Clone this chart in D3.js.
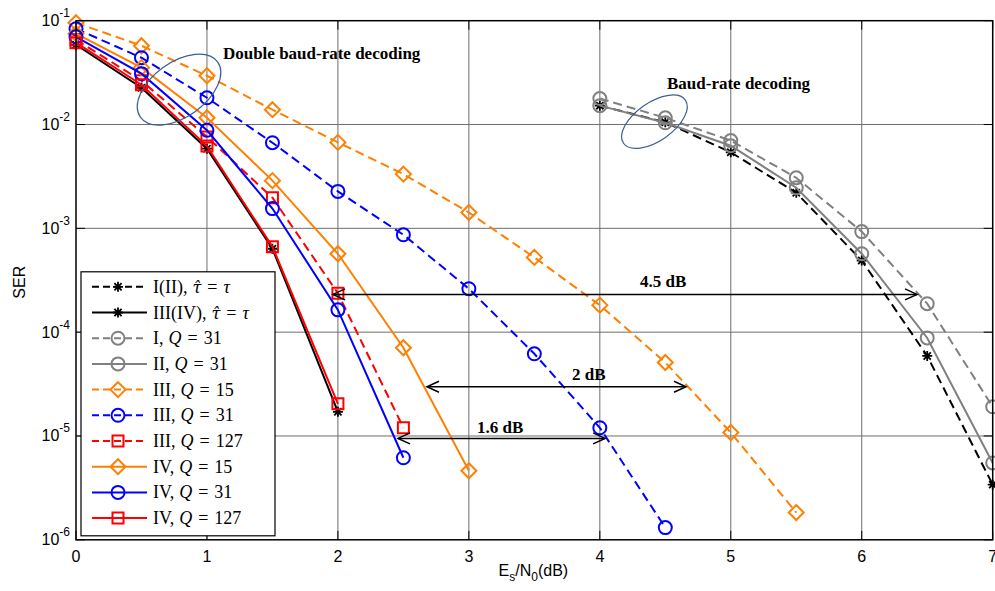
<!DOCTYPE html>
<html><head><meta charset="utf-8">
<script src="https://cdn.jsdelivr.net/npm/d3@7"></script>
<style>
html,body{margin:0;padding:0;background:#fff;}
svg{display:block;}
</style></head>
<body>
<svg id="chart" width="995" height="591"></svg>
<script>
// ---------- data ----------
const xDouble = [0, 0.5, 1, 1.5, 2, 2.5, 3, 3.5, 4, 4.5, 5, 5.5];
const xBaud = [4, 4.5, 5, 5.5, 6, 6.5, 7];

const serI_II_ideal   = [0.0152, 0.0105, 0.0054, 0.0022, 4.9e-4, 5.9e-5, 3.4e-6];
const serIII_IV_ideal = [0.0587, 0.0226, 0.00585, 6.36e-4, 1.71e-5];
const serI_Q31        = [0.0178, 0.0116, 0.0070, 0.00307, 9.3e-4, 1.88e-4, 1.91e-5];
const serII_Q31       = [0.0152, 0.0104, 0.00625, 0.00246, 5.7e-4, 8.8e-5, 5.5e-6];
const serIII_Q15      = [0.0955, 0.0574, 0.0295, 0.0139, 0.00673, 0.00333, 0.00142, 5.25e-4, 1.82e-4, 5.1e-5, 1.08e-5, 1.83e-6];
const serIII_Q31      = [0.0837, 0.044, 0.0181, 0.00668, 0.00227, 8.67e-4, 2.62e-4, 6.19e-5, 1.2e-5, 1.31e-6];
const serIII_Q127     = [0.0656, 0.0264, 0.0076, 0.00197, 2.37e-4, 1.2e-5];
const serIV_Q15       = [0.075, 0.0353, 0.0116, 0.00288, 5.69e-4, 7.08e-5, 4.62e-6];
const serIV_Q31       = [0.0700, 0.0309, 0.0088, 0.00155, 1.64e-4, 6.17e-6];
const serIV_Q127      = [0.0614, 0.0242, 0.0062, 6.65e-4, 2.04e-5];

const xTicks = [0, 1, 2, 3, 4, 5, 6, 7];
const yTicks = [1e-1, 1e-2, 1e-3, 1e-4, 1e-5, 1e-6];
const yTickExp = ["-1", "-2", "-3", "-4", "-5", "-6"];

// label segments: [text, kind]  kind 0 = roman, 1 = italic math, 3 = italic with combining hat
const series = [
  {x: xBaud,   y: serI_II_ideal,   color: "#000000", dash: true,  marker: "asterisk",
   label: [["I(II),", 0], ["\u03C4\u0302", 3], ["=", 0], ["\u03C4", 1]]},
  {x: xDouble, y: serIII_IV_ideal, color: "#000000", dash: false, marker: "asterisk",
   label: [["III(IV),", 0], ["\u03C4\u0302", 3], ["=", 0], ["\u03C4", 1]]},
  {x: xBaud,   y: serI_Q31,        color: "#808080", dash: true,  marker: "circle",
   label: [["I,", 0], ["Q", 1], ["=", 0], ["31", 0]]},
  {x: xBaud,   y: serII_Q31,       color: "#808080", dash: false, marker: "circle",
   label: [["II,", 0], ["Q", 1], ["=", 0], ["31", 0]]},
  {x: xDouble, y: serIII_Q15,      color: "#FF8000", dash: true,  marker: "diamond",
   label: [["III,", 0], ["Q", 1], ["=", 0], ["15", 0]]},
  {x: xDouble, y: serIII_Q31,      color: "#0000FF", dash: true,  marker: "circle",
   label: [["III,", 0], ["Q", 1], ["=", 0], ["31", 0]]},
  {x: xDouble, y: serIII_Q127,     color: "#FF0000", dash: true,  marker: "square",
   label: [["III,", 0], ["Q", 1], ["=", 0], ["127", 0]]},
  {x: xDouble, y: serIV_Q15,       color: "#FF8000", dash: false, marker: "diamond",
   label: [["IV,", 0], ["Q", 1], ["=", 0], ["15", 0]]},
  {x: xDouble, y: serIV_Q31,       color: "#0000FF", dash: false, marker: "circle",
   label: [["IV,", 0], ["Q", 1], ["=", 0], ["31", 0]]},
  {x: xDouble, y: serIV_Q127,      color: "#FF0000", dash: false, marker: "square",
   label: [["IV,", 0], ["Q", 1], ["=", 0], ["127", 0]]}
];

// annotations (data coordinates)
const ellipses = [
  {cx: 0.787, cy: 0.0217, rx: 47.5, ry: 27.3, rot: -35.8},
  {cx: 4.417, cy: 0.01065, rx: 37.7, ry: 19.2, rot: -34.9}
];
const notes = [
  {text: "Double baud-rate decoding", x: 1.122, y: 0.0428},
  {text: "Baud-rate decoding", x: 4.513, y: 0.0218},
  {text: "4.5 dB", x: 4.307, y: 2.74e-4},
  {text: "2 dB", x: 3.787, y: 3.46e-5},
  {text: "1.6 dB", x: 3.062, y: 1.06e-5}
];
const arrows = [
  {x1: 1.962, x2: 6.422, y: 2.31e-4},
  {x1: 2.680, x2: 4.658, y: 2.98e-5},
  {x1: 2.459, x2: 4.040, y: 9.48e-6}
];

// ---------- layout ----------
const L = 76, R = 992.7, T = 20.7, B = 539.8;
const x = d3.scaleLinear().domain([0, 7]).range([L, R]);
const y = d3.scaleLog().domain([1e-6, 1e-1]).range([B, T]);

const svg = d3.select("#chart");
const sans = "'Liberation Sans', Arial, Helvetica, sans-serif";
const serif = "'Liberation Serif', 'Times New Roman', Times, serif";

// grid
const grid = svg.append("g").attr("stroke", "#6e6e6e").attr("stroke-width", 1);
grid.selectAll("line.vx").data(xTicks.slice(1, -1)).join("line")
  .attr("x1", d => x(d)).attr("x2", d => x(d)).attr("y1", T).attr("y2", B);
grid.selectAll("line.hy").data(yTicks.slice(1, -1)).join("line")
  .attr("y1", d => y(d)).attr("y2", d => y(d)).attr("x1", L).attr("x2", R);

// ticks (inward, all four sides)
const tk = 9;
const ticks = svg.append("g").attr("stroke", "#000").attr("stroke-width", 1);
xTicks.forEach(d => {
  ticks.append("line").attr("x1", x(d)).attr("x2", x(d)).attr("y1", B).attr("y2", B - tk);
  ticks.append("line").attr("x1", x(d)).attr("x2", x(d)).attr("y1", T).attr("y2", T + tk);
});
yTicks.forEach(d => {
  ticks.append("line").attr("y1", y(d)).attr("y2", y(d)).attr("x1", L).attr("x2", L + tk);
  ticks.append("line").attr("y1", y(d)).attr("y2", y(d)).attr("x1", R).attr("x2", R - tk);
});

// tick labels
svg.append("g").selectAll("text").data(xTicks).join("text")
  .attr("x", d => x(d)).attr("y", B + 22).attr("text-anchor", "middle")
  .attr("font-family", sans).attr("font-size", 16).text(d => d);

const yl = svg.append("g").selectAll("text").data(yTicks).join("text")
  .attr("x", L - 6).attr("y", d => y(d) + 5.5).attr("text-anchor", "end")
  .attr("font-family", sans).attr("font-size", 16);
yl.append("tspan").text("10");
yl.append("tspan").attr("dy", -9).attr("font-size", 12).text((d, i) => yTickExp[i]);

// axis labels
svg.append("text").attr("transform", `translate(25,${(T + B) / 2 + 2}) rotate(-90)`)
  .attr("text-anchor", "middle").attr("font-family", sans).attr("font-size", 16).text("SER");
const xl = svg.append("text").attr("x", (L + R) / 2 - 1).attr("y", 576)
  .attr("text-anchor", "middle").attr("font-family", sans).attr("font-size", 16);
xl.append("tspan").text("E");
xl.append("tspan").attr("dy", 5).attr("font-size", 12).text("s");
xl.append("tspan").attr("dy", -5).text("/N");
xl.append("tspan").attr("dy", 5).attr("font-size", 12).text("0");
xl.append("tspan").attr("dy", -5).text("(dB)");

// markers
function markerPath(type) {
  if (type === "circle") return d3.symbol(d3.symbolCircle, Math.PI * 6.5 * 6.5)();
  if (type === "square") return "M-5.5,-5.5H5.5V5.5H-5.5Z";
  if (type === "diamond") return "M0,-7.5L7.5,0L0,7.5L-7.5,0Z";
  const s = 5, k = 3.6;
  return `M${-s},0H${s}M0,${-s}V${s}M${-k},${-k}L${k},${k}M${-k},${k}L${k},${-k}`;
}

const line = d3.line().x(d => x(d[0])).y(d => y(d[1]));
const dataG = svg.append("g");
series.forEach(s => {
  const pts = s.y.map((v, i) => [s.x[i], v]);
  const g = dataG.append("g");
  g.append("path").attr("d", line(pts)).attr("fill", "none")
    .attr("stroke", s.color).attr("stroke-width", 2)
    .attr("stroke-dasharray", s.dash ? "9,5" : null);
  g.selectAll("path.m").data(pts).join("path").attr("class", "m")
    .attr("transform", d => `translate(${x(d[0])},${y(d[1])})`)
    .attr("d", markerPath(s.marker)).attr("fill", "none")
    .attr("stroke", s.color).attr("stroke-width", s.marker === "asterisk" ? 1.8 : 2);
});

// axes box
svg.append("rect").attr("x", L).attr("y", T).attr("width", R - L).attr("height", B - T)
  .attr("fill", "none").attr("stroke", "#000").attr("stroke-width", 1.5);

// annotations
const ann = svg.append("g");
ellipses.forEach(e => {
  ann.append("ellipse").attr("cx", 0).attr("cy", 0).attr("rx", e.rx).attr("ry", e.ry)
    .attr("transform", `translate(${x(e.cx)},${y(e.cy)}) rotate(${e.rot})`)
    .attr("fill", "none").attr("stroke", "#3b5f94").attr("stroke-width", 1.2);
});
notes.forEach(n => {
  ann.append("text").attr("x", x(n.x)).attr("y", y(n.y))
    .attr("font-family", serif).attr("font-weight", "bold").attr("font-size", 17).text(n.text);
});
arrows.forEach(a => {
  const yy = y(a.y), x1 = x(a.x1), x2 = x(a.x2);
  const g = ann.append("g").attr("stroke", "#000").attr("stroke-width", 1.5).attr("fill", "none");
  g.append("line").attr("x1", x1).attr("x2", x2).attr("y1", yy).attr("y2", yy);
  g.append("path").attr("d", `M${x1 + 12},${yy - 5.5}L${x1},${yy}L${x1 + 12},${yy + 5.5}`);
  g.append("path").attr("d", `M${x2 - 12},${yy - 5.5}L${x2},${yy}L${x2 - 12},${yy + 5.5}`);
});

// legend
const lgX = L + 5, lgB = B - 4, lgW = 194, rowH = 25.7;
const lgH = rowH * series.length + 7;
const lg = svg.append("g");
lg.append("rect").attr("x", lgX).attr("y", lgB - lgH).attr("width", lgW).attr("height", lgH)
  .attr("fill", "#fff").attr("stroke", "#000").attr("stroke-width", 1.2);
series.forEach((s, i) => {
  const cy = lgB - lgH + 15 + i * rowH;
  const g = lg.append("g");
  g.append("line").attr("x1", lgX + 11).attr("x2", lgX + 66).attr("y1", cy).attr("y2", cy)
    .attr("stroke", s.color).attr("stroke-width", 2)
    .attr("stroke-dasharray", s.dash ? "7,4" : null);
  g.append("path").attr("transform", `translate(${lgX + 37},${cy})`)
    .attr("d", markerPath(s.marker)).attr("fill", "none")
    .attr("stroke", s.color).attr("stroke-width", s.marker === "asterisk" ? 1.8 : 2);
  const t = g.append("text").attr("x", lgX + 72).attr("y", cy + 6)
    .attr("font-family", serif).attr("font-size", 18).attr("fill", "#000");
  s.label.forEach((seg, j) => {
    const ts = t.append("tspan").text(seg[0]);
    if (j > 0) ts.attr("dx", j === 1 ? 5 : 6);
    if (seg[1] === 1 || seg[1] === 3) ts.attr("font-style", "italic");
    if (seg[1] === 3) ts.attr("font-family", "'DejaVu Serif', serif").attr("font-size", 16);
  });
});
</script>
</body></html>
